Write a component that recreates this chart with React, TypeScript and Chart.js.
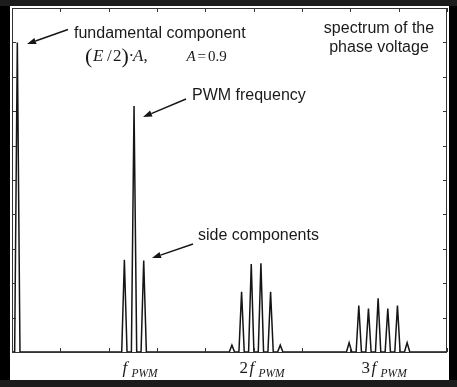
import React, { useEffect, useRef } from "react";
import { Chart, registerables } from "chart.js";

Chart.register(...registerables);

// Spectrum (x in harmonic order of the fundamental, y relative amplitude)
const peakFreqs = [1.1, 23.25, 25.25, 27.25, 45.5, 47.5, 49.5, 51.5, 53.5, 55.5, 69.75, 71.75, 73.75, 75.75, 77.75, 79.75, 81.75];
const peakAmps = [0.9, 0.268, 0.715, 0.266, 0.02, 0.175, 0.256, 0.258, 0.175, 0.02, 0.027, 0.135, 0.126, 0.156, 0.126, 0.135, 0.027];
const peakHalfWidth = 0.55;

const xMin = 0;
const xMax = 90;
const xTicks = [0, 10, 20, 30, 40, 50, 60, 70, 80, 90];
const yTicks = [0, 0.1, 0.2, 0.3, 0.4, 0.5, 0.6, 0.7, 0.8, 0.9, 1.0];

// Carrier multiples labelled under the axis
const carrierTickValues = [25.25, 50.5, 75.75];
const carrierTickPrefixes = ["", "2", "3"];

const textFundamental = "fundamental component";
const textPwm = "PWM frequency";
const textSide = "side components";
const textSpectrumLines = ["spectrum of the", "phase voltage"];

function buildPoints() {
  const pts: { x: number; y: number }[] = [{ x: xMin, y: 0 }];
  peakFreqs.forEach((f, i) => {
    pts.push({ x: f - peakHalfWidth, y: 0 });
    pts.push({ x: f, y: peakAmps[i] });
    pts.push({ x: f + peakHalfWidth, y: 0 });
  });
  pts.push({ x: xMax, y: 0 });
  return pts;
}

function arrow(ctx: CanvasRenderingContext2D, x0: number, y0: number, x1: number, y1: number) {
  const ang = Math.atan2(y1 - y0, x1 - x0);
  const len = 9;
  const hw = 3.2;
  const bx = x1 - len * Math.cos(ang);
  const by = y1 - len * Math.sin(ang);
  ctx.save();
  ctx.strokeStyle = "#151515";
  ctx.fillStyle = "#151515";
  ctx.lineWidth = 1.4;
  ctx.beginPath();
  ctx.moveTo(x0, y0);
  ctx.lineTo(bx, by);
  ctx.stroke();
  ctx.beginPath();
  ctx.moveTo(x1, y1);
  ctx.lineTo(bx + hw * Math.sin(ang), by - hw * Math.cos(ang));
  ctx.lineTo(bx - hw * Math.sin(ang), by + hw * Math.cos(ang));
  ctx.closePath();
  ctx.fill();
  ctx.restore();
}

const decorPlugin = {
  id: "decor",
  beforeDraw(chart: any) {
    const ctx = chart.ctx as CanvasRenderingContext2D;
    const W = chart.width;
    const H = chart.height;
    ctx.save();
    ctx.fillStyle = "#1c1c1c";
    ctx.fillRect(0, 0, W, H);
    ctx.fillStyle = "#000000";
    ctx.fillRect(0, 6, 10, 374);
    ctx.fillRect(449, 6, W - 449, 374);
    ctx.fillStyle = "#ffffff";
    ctx.fillRect(10, 6, 439, 374);
    ctx.restore();
  },
  afterDraw(chart: any) {
    const ctx = chart.ctx as CanvasRenderingContext2D;
    const { left, right, top, bottom } = chart.chartArea;
    const xs = chart.scales.x;
    const ys = chart.scales.y;
    ctx.save();
    // frame
    ctx.strokeStyle = "#333333";
    ctx.lineWidth = 1;
    ctx.strokeRect(Math.round(left) + 0.5, Math.round(top) + 0.5, Math.round(right - left) - 1, Math.round(bottom - top));
    // inward ticks
    const tl = 4;
    ctx.beginPath();
    xTicks.forEach((v) => {
      const px = Math.round(xs.getPixelForValue(v)) + 0.5;
      ctx.moveTo(px, top);
      ctx.lineTo(px, top + tl);
      ctx.moveTo(px, bottom);
      ctx.lineTo(px, bottom - tl);
    });
    yTicks.forEach((v) => {
      const py = Math.round(ys.getPixelForValue(v)) + 0.5;
      ctx.moveTo(left, py);
      ctx.lineTo(left + tl, py);
      ctx.moveTo(right, py);
      ctx.lineTo(right - tl, py);
    });
    ctx.stroke();

    // carrier tick labels
    ctx.fillStyle = "#1a1a1a";
    ctx.textBaseline = "alphabetic";
    carrierTickValues.forEach((v, i) => {
      const c = xs.getPixelForValue(v);
      const prefix = carrierTickPrefixes[i];
      ctx.font = "italic 11.5px 'Liberation Serif'";
      const wSub = ctx.measureText("PWM").width;
      const total = (prefix ? 10 : 0) + 9 + wSub;
      let x = c + 6 - total / 2;
      const base = 373;
      if (prefix) {
        ctx.font = "17px 'Liberation Serif'";
        ctx.fillText(prefix, x, base);
        x += 10;
      }
      ctx.font = "italic 17px 'Liberation Serif'";
      ctx.fillText("f", x, base);
      x += 9;
      ctx.font = "italic 11.5px 'Liberation Serif'";
      ctx.fillText("PWM", x, base + 4);
    });

    // annotations
    ctx.fillStyle = "#1a1a1a";
    ctx.font = "16px 'Liberation Sans'";
    ctx.textAlign = "left";
    ctx.fillText(textFundamental, 74, 38);
    ctx.fillText(textPwm, 192, 100);
    ctx.fillText(textSide, 198, 240);
    ctx.textAlign = "center";
    ctx.fillText(textSpectrumLines[0], 379, 33);
    ctx.fillText(textSpectrumLines[1], 379, 52);
    ctx.textAlign = "left";

    // math: (E/2)·A,  A = 0.9
    const mb = 61;
    ctx.font = "22px 'Liberation Serif'";
    ctx.fillText("(", 85, mb + 2);
    ctx.font = "italic 17px 'Liberation Serif'";
    ctx.fillText("E", 93, mb);
    ctx.font = "17px 'Liberation Serif'";
    ctx.fillText("/", 107, mb);
    ctx.fillText("2", 113, mb);
    ctx.font = "22px 'Liberation Serif'";
    ctx.fillText(")", 121.5, mb + 2);
    ctx.font = "17px 'Liberation Serif'";
    ctx.fillText("\u00b7", 128.5, mb);
    ctx.font = "italic 17px 'Liberation Serif'";
    ctx.fillText("A", 133, mb);
    ctx.font = "17px 'Liberation Serif'";
    ctx.fillText(",", 143.5, mb);
    ctx.font = "italic 15px 'Liberation Serif'";
    ctx.fillText("A", 186.5, mb);
    ctx.font = "15px 'Liberation Serif'";
    ctx.fillText("=", 197.5, mb);
    ctx.fillText("0.9", 208, mb);

    // arrows
    arrow(ctx, 68, 29.5, 27, 44);
    arrow(ctx, 186, 99, 143, 117);
    arrow(ctx, 193, 244, 152, 258);
    ctx.restore();
  },
};

export default function App() {
  const ref = useRef<HTMLCanvasElement | null>(null);
  useEffect(() => {
    if (!ref.current) return;
    const chart = new Chart(ref.current, {
      type: "line",
      data: {
        datasets: [
          {
            data: buildPoints(),
            borderColor: "#151515",
            borderWidth: 1.5,
            pointRadius: 0,
            tension: 0,
            fill: false,
            clip: false as any,
          },
        ],
      },
      options: {
        animation: false,
        responsive: false,
        devicePixelRatio: 1,
        layout: { padding: { left: 12, right: 10, top: 8, bottom: 35 } },
        plugins: { legend: { display: false }, tooltip: { enabled: false } },
        events: [],
        scales: {
          x: { type: "linear", min: xMin, max: xMax, display: false },
          y: { type: "linear", min: 0, max: 1, display: false },
        },
      },
      plugins: [decorPlugin],
    });
    return () => chart.destroy();
  }, []);
  return (
    <div style={{ position: "fixed", left: 0, top: 0, width: 457, height: 387 }}>
      <canvas ref={ref} width={457} height={387} style={{ display: "block", width: 457, height: 387 }} />
    </div>
  );
}
